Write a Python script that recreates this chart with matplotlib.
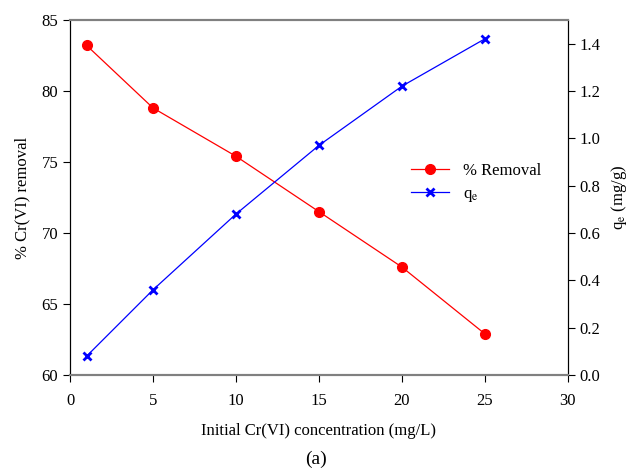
import matplotlib
matplotlib.use("Agg")
import matplotlib.pyplot as plt

plt.rcParams['font.family'] = ['Liberation Serif', 'DejaVu Serif']
plt.rcParams['mathtext.fontset'] = 'stix'

# data
conc = [1, 5, 10, 15, 20, 25]
removal = [83.2, 78.8, 75.4, 71.5, 67.6, 62.9]
qe = [0.08, 0.36, 0.68, 0.97, 1.22, 1.42]

fig = plt.figure(figsize=(6.31, 4.73), dpi=100)
ax = fig.add_axes([0.111, 0.207, 0.789, 0.751])
ax2 = ax.twinx()

l1, = ax.plot(conc, removal, color='red', lw=0.9, marker='o', ms=7, label='% Removal')
l2, = ax2.plot(conc, qe, color='blue', lw=0.9, marker='x', ms=6, mew=2, label='q$_e$')

ax.set_xlim(0, 30)
ax.set_ylim(60, 85)
ax2.set_ylim(0, 1.5)
ax.set_xticks(range(0, 31, 5))
ax.set_yticks(range(60, 86, 5))
ax2.set_yticks([0.0, 0.2, 0.4, 0.6, 0.8, 1.0, 1.2, 1.4])
ax2.set_yticklabels(['0.0', '0.2', '0.4', '0.6', '0.8', '1.0', '1.2', '1.4'])

for a in (ax, ax2):
    a.tick_params(direction='out', labelsize=12, length=5)
    a.spines['top'].set_color('gray')
    a.spines['bottom'].set_color('gray')
    a.spines['top'].set_linewidth(1.5)
    a.spines['bottom'].set_linewidth(1.5)
ax.tick_params(axis='x', pad=8)

ax.set_xlabel('Initial Cr(VI) concentration (mg/L)', fontsize=12, labelpad=10)
ax.set_ylabel('% Cr(VI) removal', fontsize=12, labelpad=8)
ax2.set_ylabel(r'q$_\mathrm{e}$ (mg/g)', fontsize=12, labelpad=6)

ax.legend([l1, l2], ['% Removal', r'q$_\mathrm{e}$'], loc='center left', bbox_to_anchor=(0.655, 0.54),
          frameon=False, fontsize=12, handlelength=2.3, labelspacing=0.4)

fig.text(0.5, 0.02, '(a)', ha='center', fontsize=14)

fig.savefig('out.png', dpi=100)
